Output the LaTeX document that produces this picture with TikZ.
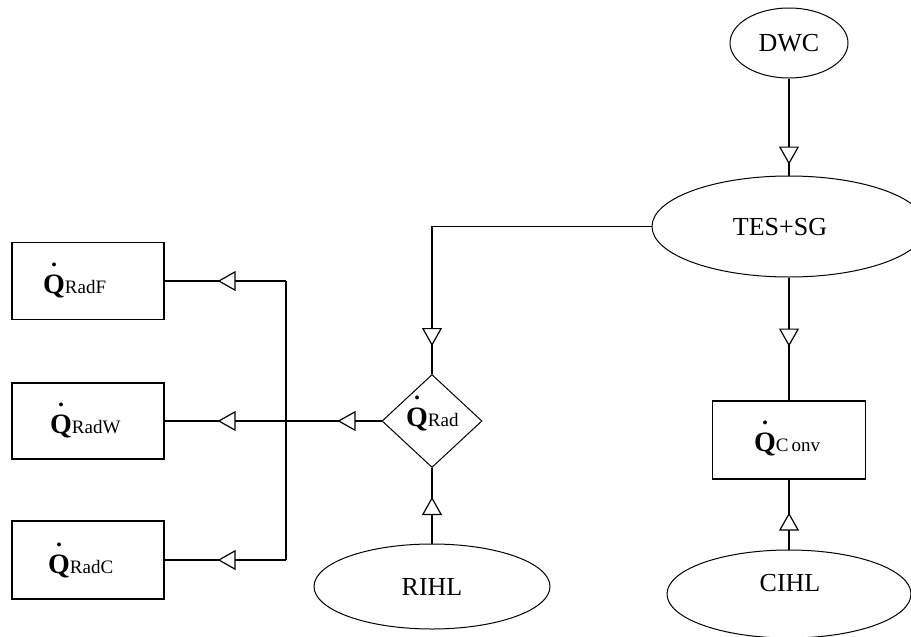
\documentclass[tikz,border=0pt]{standalone}
\usepackage{fontspec}
\setmainfont{Liberation Serif}
\usetikzlibrary{shapes.geometric,arrows.meta,decorations.markings}

% bold Q with a small dot above, followed by its index
\newcommand{\qflux}[1]{{\fontsize{28}{28}\selectfont\ooalign{\textbf{Q}\cr\hidewidth\raisebox{27pt}{\fontsize{24}{24}\selectfont\textbf{.}}\hidewidth\cr}}{\fontsize{19}{19}\selectfont #1}}

\tikzset{
  wire/.style={line width=1.3pt},
  tri at/.style={postaction={decorate,decoration={markings,
      mark=at position #1 with {\arrow{>}}}}},
  oval/.style={draw, line width=1pt, ellipse, inner sep=0pt},
  blockbox/.style={draw, line width=1.3pt, rectangle, inner sep=0pt},
  rhomb/.style={draw, line width=1pt, diamond, inner sep=0pt},
  txt/.style={font=\fontsize{26}{26}\selectfont, inner sep=0pt},
  qtxt/.style={inner sep=0pt, anchor=base west},
}

\begin{document}
\begin{tikzpicture}[x=1pt, y=-1pt,
  >={Triangle[fill=white, length=18pt, width=20pt, line width=1.2pt]}]
\clip (0,0) rectangle (911,637);
\fill[white] (0,0) rectangle (911,637);

% source / storage ellipses
\node[oval, txt, minimum width=118pt, minimum height=70pt] (dwc) at (789,43) {DWC};
\node[oval, minimum width=274pt, minimum height=101pt] (tes) at (789,226.5) {};
\node[txt] (testxt) at (780,227) {TES+SG};
\node[oval, txt, minimum width=236pt, minimum height=85pt] (rihl) at (432,586.5) {RIHL};
\node[oval, minimum width=244pt, minimum height=88pt] (cihl) at (789,594) {};
\node[txt] (cihltxt) at (790,583) {CIHL};

% heat flow blocks
\node[rhomb, minimum width=100pt, minimum height=93pt] (rad) at (432,421) {};
\node[qtxt] (radtxt) at (406,426) {\qflux{Rad}};
\node[blockbox, minimum width=153pt, minimum height=78pt] (conv) at (789,440) {};
\node[qtxt] (convtxt) at (754,451) {\qflux{C\kern3pt onv}};

\node[blockbox, minimum width=152pt, minimum height=77pt] (radF) at (88,281) {};
\node[qtxt] (radFtxt) at (43,293) {\qflux{RadF}};
\node[blockbox, minimum width=152pt, minimum height=76pt] (radW) at (88,421) {};
\node[qtxt] (radWtxt) at (50,433) {\qflux{RadW}};
\node[blockbox, minimum width=152pt, minimum height=78pt] (radC) at (88,560) {};
\node[qtxt] (radCtxt) at (48,573) {\qflux{RadC}};

% distribution bus
\coordinate (jt) at (286,281);
\coordinate (jb) at (286,560);

% connectors
\draw[wire, tri at=-11pt] (dwc) -- (tes);
\draw[wire, tri at=-28pt] (tes.west) -| (rad.north);
\draw[wire, tri at=69pt] (tes) -- (conv);
\draw[wire, tri at=-29pt] (rihl) -- (rad);
\draw[wire, tri at=-33pt] (cihl) -- (conv);
\draw[wire, tri at=44pt, tri at=-53pt] (rad.west) -- (radW.east);
\draw[wire] (jt) -- (jb);
\draw[wire, tri at=-53pt] (jt) -- (radF.east);
\draw[wire, tri at=-53pt] (jb) -- (radC.east);
\end{tikzpicture}
\end{document}
